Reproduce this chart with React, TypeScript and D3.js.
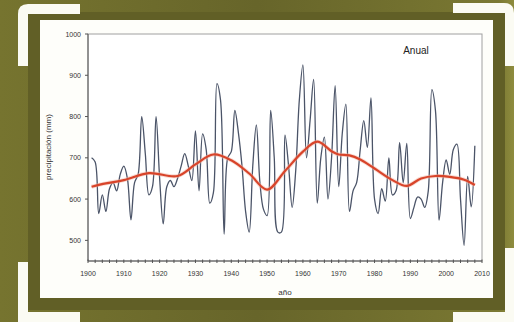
import React from "react";
import * as d3 from "d3";

const startYear = 1901;
const precip = [
  700, 690, 565, 610, 570, 625, 640, 620, 660, 680,
  650, 550, 640, 660, 800, 710, 610, 630, 800, 650,
  540, 630, 645, 630, 650, 680, 710, 680, 645, 765,
  620, 758, 720, 590, 615, 880, 840, 515, 700, 715,
  815, 760, 680, 570, 520, 680, 780, 640, 575, 560,
  815, 700, 520, 520, 755, 680, 580, 670, 840, 925,
  700, 790, 890, 590, 700, 750, 600, 700, 875, 630,
  760, 830, 570, 620, 640, 720, 790, 725, 845, 600,
  565, 625, 595, 700, 610, 620, 737, 640, 735, 553,
  580, 605, 600, 580, 620, 865, 815, 549, 640, 695,
  660, 720, 733, 600, 488, 655, 581, 729,
];
const trendYears = [1901, 1905, 1910, 1917, 1925, 1930, 1935, 1940, 1945, 1950, 1955, 1960, 1964, 1968, 1970, 1973, 1976, 1980, 1985, 1989, 1993, 1997, 2001, 2005, 2008];
const trendValues = [630, 638, 646, 663, 656, 684, 708, 694, 662, 623, 668, 715, 739, 716, 708, 706, 696, 674, 646, 632, 650, 656, 654, 647, 634];
const yTicks = [500, 600, 700, 800, 900, 1000];
const xTicks = [1900, 1910, 1920, 1930, 1940, 1950, 1960, 1970, 1980, 1990, 2000, 2010];

export default function App() {
  const W = 514, H = 322;
  const left = 88, right = 482, top = 34, bottom = 261;
  const x = d3.scaleLinear().domain([1900, 2010]).range([left, right]);
  const y = d3.scaleLinear().domain([450, 1000]).range([bottom, top]);
  const series = precip.map((v, i) => [startYear + i, v] as [number, number]);
  const trend = trendYears.map((yr, i) => [yr, trendValues[i]] as [number, number]);
  const line = d3.line<[number, number]>().x(d => x(d[0])).y(d => y(d[1])).curve(d3.curveCatmullRom.alpha(0.5));
  const minor = d3.range(1900, 2011, 2);
  const font = "Arial, 'Liberation Sans', sans-serif";

  const bracket = (d: string, key: string) => <path key={key} d={d} fill="#fbfbf3" />;

  return (
    <svg width={W} height={H} style={{ position: "absolute", left: 0, top: 0 }}>
      <defs>
        <linearGradient id="bg" x1="0" x2="1" y1="0" y2="0">
          <stop offset="0" stopColor="#76742f" />
          <stop offset="0.5" stopColor="#67652a" />
          <stop offset="0.97" stopColor="#7a7832" />
          <stop offset="1" stopColor="#8e8c3e" />
        </linearGradient>
      </defs>
      <rect x={0} y={0} width={W} height={H} fill="url(#bg)" />
      <rect x={28} y={12} width={477} height={298} fill="#615f26" />
      {bracket("M18,14 Q18,4 28,4 L80,4 L80,14 L28,14 L28,66 L18,66 Z", "tl")}
      {bracket("M18,262 L28,262 L28,312 L80,312 L80,322 L18,322 Z", "bl")}
      {bracket("M453,3 L504,3 Q514,3 514,13 L514,66 L505,66 L505,13 L453,13 Z", "tr")}
      {bracket("M453,312 L505,312 L505,248 L514,248 L514,322 L453,322 Z", "br")}
      <rect x={40} y={20} width={453} height={278} fill="#fefefa" />
      <rect x={left} y={top} width={right - left} height={bottom - top} fill="#ffffff" stroke="#a0a0a0" strokeWidth={1} />
      <line x1={left} x2={left} y1={top} y2={bottom} stroke="#555" strokeWidth={1} />
      <line x1={left} x2={right} y1={bottom} y2={bottom} stroke="#555" strokeWidth={1} />
      {yTicks.map(t => (
        <g key={t}>
          <line x1={left - 3} x2={left} y1={y(t)} y2={y(t)} stroke="#555" />
          <text x={left - 7} y={y(t) + 2.5} fontSize={7} textAnchor="end" fill="#333" fontFamily={font}>{t}</text>
        </g>
      ))}
      {minor.map(t => (
        <line key={t} x1={x(t)} x2={x(t)} y1={bottom - 1.5} y2={bottom + 2} stroke="#555" />
      ))}
      {xTicks.map(t => (
        <text key={t} x={x(t)} y={276} fontSize={7} textAnchor="middle" fill="#333" fontFamily={font}>{t}</text>
      ))}
      <path d={line(series) || ""} fill="none" stroke="#4b5468" strokeWidth={1.3} />
      <path d={line(trend) || ""} fill="none" stroke="#f4b8a8" strokeWidth={4} opacity={0.5} />
      <path d={line(trend) || ""} fill="none" stroke="#d8442a" strokeWidth={2.2} />
      <text x={416} y={54} fontSize={10} textAnchor="middle" fill="#222" fontFamily={font}>Anual</text>
      <text x={285} y={295} fontSize={8} textAnchor="middle" fill="#333" fontFamily={font}>año</text>
      <text transform={`translate(51,147) rotate(-90)`} fontSize={8} textAnchor="middle" fill="#333" fontFamily={font}>precipitación (mm)</text>
    </svg>
  );
}
